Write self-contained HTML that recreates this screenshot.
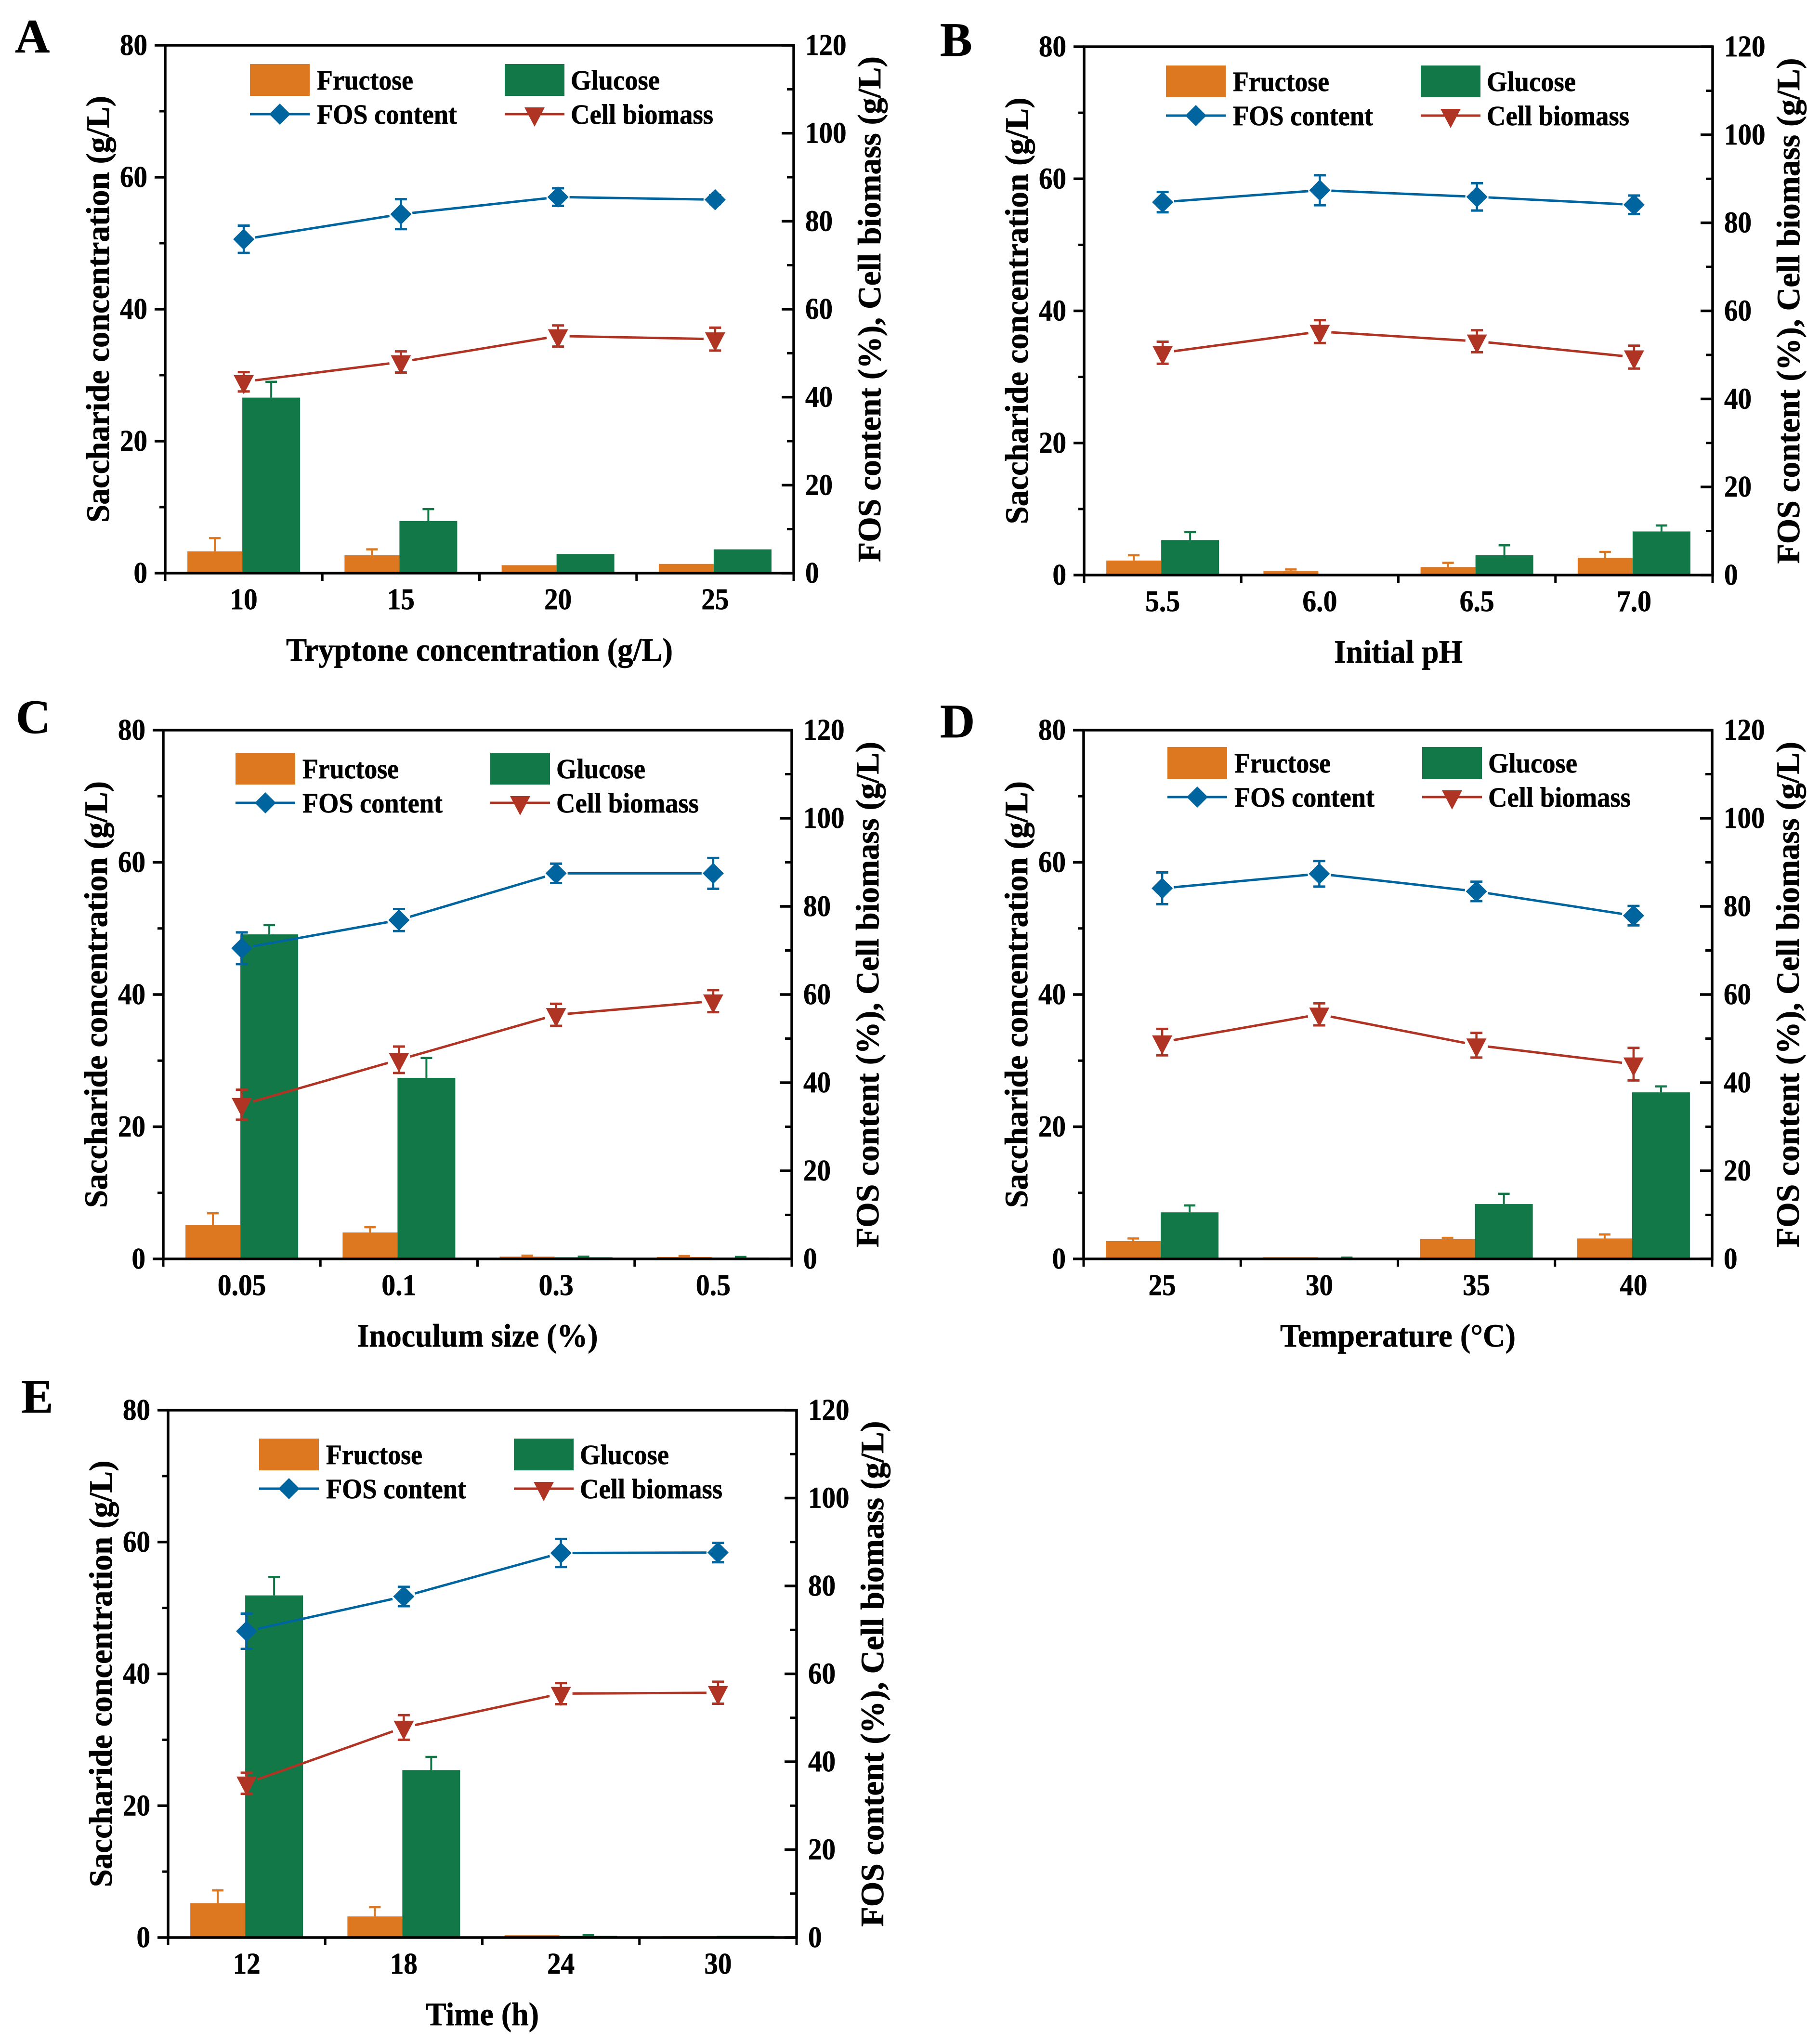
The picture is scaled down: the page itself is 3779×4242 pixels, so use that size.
<!DOCTYPE html>
<html lang="en">
<head>
<meta charset="utf-8">
<title>Saccharide concentration, FOS content and cell biomass panels</title>
<style>
html,body{margin:0;padding:0;background:#fff;}
svg{display:block;}
text{font-family:"Liberation Serif",serif;font-weight:bold;fill:#000;stroke:#000;stroke-width:0.7px;}
</style>
</head>
<body>
<svg id="figure" xmlns="http://www.w3.org/2000/svg" width="3779" height="4242" viewBox="0 0 3779 4242">
<rect x="0" y="0" width="3779" height="4242" fill="#ffffff"/>
</svg>
<script>
// ---------- shared axis data ----------
const leftTickLabels = [0, 20, 40, 60, 80];
const leftMinorTicks = [10, 30, 50, 70];
const rightTickLabels = [0, 20, 40, 60, 80, 100, 120];
const rightMinorTicks = [10, 30, 50, 70, 90, 110];
const leftAxisMax = 80;
const rightAxisMax = 120;

// ---------- panel A ----------
const panelACategories = ['10', '15', '20', '25'];
const panelAFructose = [3.3, 2.7, 1.2, 1.4];
const panelAFructoseErr = [2.0, 0.9, 0, 0];
const panelAGlucose = [26.6, 7.9, 2.9, 3.6];
const panelAGlucoseErr = [2.4, 1.8, 0, 0];
const panelAFos = [75.9, 81.6, 85.5, 84.9];
const panelAFosErr = [3.1, 3.4, 2.0, 1.0];
const panelABiomass = [43.5, 48.0, 53.9, 53.2];
const panelABiomassErr = [2.2, 2.4, 2.4, 2.6];

// ---------- panel B ----------
const panelBCategories = ['5.5', '6.0', '6.5', '7.0'];
const panelBFructose = [2.2, 0.65, 1.2, 2.6];
const panelBFructoseErr = [0.8, 0.2, 0.65, 0.9];
const panelBGlucose = [5.3, 0.1, 3.0, 6.6];
const panelBGlucoseErr = [1.2, 0, 1.5, 0.9];
const panelBFos = [84.7, 87.4, 85.9, 84.1];
const panelBFosErr = [2.3, 3.4, 3.1, 2.1];
const panelBBiomass = [50.5, 55.3, 53.1, 49.5];
const panelBBiomassErr = [2.5, 2.6, 2.5, 2.6];

// ---------- panel C ----------
const panelCCategories = ['0.05', '0.1', '0.3', '0.5'];
const panelCFructose = [5.15, 4.0, 0.35, 0.3];
const panelCFructoseErr = [1.75, 0.8, 0.15, 0.15];
const panelCGlucose = [49.1, 27.4, 0.25, 0.2];
const panelCGlucoseErr = [1.4, 3.0, 0.1, 0.1];
const panelCFos = [70.5, 76.9, 87.5, 87.5];
const panelCFosErr = [3.6, 2.5, 2.2, 3.5];
const panelCBiomass = [35.0, 45.2, 55.4, 58.5];
const panelCBiomassErr = [3.4, 3.0, 2.5, 2.5];

// ---------- panel D ----------
const panelDCategories = ['25', '30', '35', '40'];
const panelDFructose = [2.7, 0.25, 3.0, 3.1];
const panelDFructoseErr = [0.4, 0, 0.2, 0.6];
const panelDGlucose = [7.05, 0.1, 8.3, 25.2];
const panelDGlucoseErr = [1.05, 0.1, 1.55, 0.9];
const panelDFos = [84.1, 87.4, 83.4, 77.9];
const panelDFosErr = [3.6, 2.9, 2.2, 2.2];
const panelDBiomass = [49.2, 55.5, 48.5, 44.2];
const panelDBiomassErr = [3.0, 2.5, 2.8, 3.7];

// ---------- panel E ----------
const panelECategories = ['12', '18', '24', '30'];
const panelEFructose = [5.2, 3.2, 0.35, 0.2];
const panelEFructoseErr = [1.95, 1.4, 0, 0];
const panelEGlucose = [51.9, 25.4, 0.25, 0.25];
const panelEGlucoseErr = [2.8, 2.0, 0.1, 0];
const panelEFos = [69.7, 77.6, 87.5, 87.6];
const panelEFosErr = [4.0, 2.2, 3.2, 2.2];
const panelEBiomass = [35.1, 47.8, 55.5, 55.7];
const panelEBiomassErr = [2.4, 2.8, 2.4, 2.5];

const COLORS = {orange:'#de7820', green:'#137848', blue:'#00659f', red:'#b03424'};
const svg = document.getElementById('figure');
const NS = 'http://www.w3.org/2000/svg';

function make(parent, tag, attrs, content) {
  const el = document.createElementNS(NS, tag);
  for (const k in attrs) el.setAttribute(k, attrs[k]);
  if (content !== undefined) el.textContent = content;
  parent.appendChild(el);
  return el;
}
function line(parent, x1, y1, x2, y2, color, w) {
  return make(parent, 'line', {x1:x1, y1:y1, x2:x2, y2:y2, stroke:color, 'stroke-width':w});
}
function diamond(parent, cx, cy) {
  return make(parent, 'polygon', {points:[cx-22,cy, cx,cy-22, cx+22,cy, cx,cy+22].join(' '), fill:COLORS.blue});
}
function triangle(parent, cx, cy) {
  return make(parent, 'polygon', {points:[cx-21,cy-14, cx+21,cy-14, cx,cy+26].join(' '), fill:COLORS.red});
}
function tickLength(label) {
  const s = String(label);
  let total = 0;
  for (const ch of s) total += ch === '.' ? 15 : 28.5;
  return total;
}
function tickText(parent, x, y, label, anchor) {
  return make(parent, 'text', {x:x, y:y, 'font-size':62, 'text-anchor':anchor, textLength:tickLength(label), lengthAdjust:'spacingAndGlyphs'}, label);
}

function drawPanel(p) {
  const g = make(svg, 'g', {});
  
  

  const W = p.right - p.left, H = p.bottom - p.top;
  const n = p.categories.length;
  const xBand = i => p.left + W * (i + 0.5) / n;
  const yLeft = v => p.bottom - H * v / leftAxisMax;
  const yRight = v => p.bottom - H * v / rightAxisMax;

  // panel letter
  const letter = make(g, 'text', {x:p.letterX, y:p.letterY, 'font-size':100}, p.letter);
  
  

  // bars
  p.categories.forEach((c, i) => {
    const cx = xBand(i);
    [[p.fructose, p.fructoseErr, cx-117, 114, COLORS.orange, 'fructose-bar'],
     [p.glucose, p.glucoseErr, cx-3, 120, COLORS.green, 'glucose-bar']].forEach(b => {
      const val = b[0][i], err = b[1][i], x = b[2], w = b[3], col = b[4];
      const top = yLeft(val), mid = x + w / 2;
      if (err > 0) {
        const ebar = make(g, 'g', {});
        
        
        line(ebar, mid, top, mid, yLeft(val + err), col, 4);
        line(ebar, mid - 12, yLeft(val + err), mid + 12, yLeft(val + err), col, 4.5);
      }
      const r = make(g, 'rect', {x:x, y:top, width:w, height:Math.max(p.bottom - top, 0), fill:col});
      
      
    });
  });

  // axes frame
  const axes = make(g, 'g', {});
  
  
  make(axes, 'rect', {x:p.left, y:p.top, width:W, height:H, fill:'none', stroke:'#000', 'stroke-width':5.5});

  leftTickLabels.forEach(v => {
    const y = yLeft(v);
    line(axes, p.left - 22, y, p.left, y, '#000', 5.5);
    const t = tickText(axes, p.left - 37, y + 20, v, 'end');
    
    
  });
  leftMinorTicks.forEach(v => line(axes, p.left - 12, yLeft(v), p.left, yLeft(v), '#000', 5));
  rightTickLabels.forEach(v => {
    const y = yRight(v);
    line(axes, p.right - 25, y, p.right, y, '#000', 5.5);
    const t = tickText(axes, p.right + 24, y + 20, v, 'start');
    
    
  });
  rightMinorTicks.forEach(v => line(axes, p.right - 14, yRight(v), p.right, yRight(v), '#000', 5));
  for (let i = 0; i <= n; i++) {
    const x = p.left + W * i / n;
    line(axes, x, p.bottom, x, p.bottom + 16, '#000', 5);
  }
  p.categories.forEach((c, i) => {
    const t = tickText(axes, xBand(i), p.bottom + 75, c, 'middle');
    
    
  });

  // titles
  const xt = make(g, 'text', {x:(p.left + p.right) / 2, y:p.bottom + 182, 'font-size':68, 'text-anchor':'middle', textLength:p.xTitleLength, lengthAdjust:'spacingAndGlyphs'}, p.xTitle);
  
  
  const midY = (p.top + p.bottom) / 2;
  const yt = make(g, 'text', {transform:'translate(' + (p.left - 117) + ' ' + midY + ') rotate(-90)', 'font-size':68, 'text-anchor':'middle', textLength:886, lengthAdjust:'spacingAndGlyphs'}, 'Saccharide concentration (g/L)');
  
  
  const rt = make(g, 'text', {transform:'translate(' + (p.right + 180) + ' ' + midY + ') rotate(-90)', 'font-size':68, 'text-anchor':'middle', textLength:1050, lengthAdjust:'spacingAndGlyphs'}, 'FOS content (%), Cell biomass (g/L)');
  
  

  // line series
  [[p.fos, p.fosErr, COLORS.blue, diamond, 'fos-point'],
   [p.biomass, p.biomassErr, COLORS.red, triangle, 'biomass-point']].forEach(s => {
    const vals = s[0], errs = s[1], col = s[2], marker = s[3];
    const series = make(g, 'g', {});
    
    
    const GAP = 24;
    for (let i = 0; i < vals.length - 1; i++) {
      const x1 = xBand(i), y1 = yRight(vals[i]), x2 = xBand(i + 1), y2 = yRight(vals[i + 1]);
      const len = Math.hypot(x2 - x1, y2 - y1), ux = (x2 - x1) / len, uy = (y2 - y1) / len;
      line(series, x1 + ux * GAP, y1 + uy * GAP, x2 - ux * GAP, y2 - uy * GAP, col, 5);
    }
    vals.forEach((v, i) => {
      const x = xBand(i), hi = yRight(v + errs[i]), lo = yRight(v - errs[i]);
      line(series, x, hi, x, lo, col, 4.5);
      line(series, x - 12.5, hi, x + 12.5, hi, col, 5);
      line(series, x - 12.5, lo, x + 12.5, lo, col, 5);
      const m = marker(series, x, yRight(v));
      
      
    });
  });

  // legend
  const lx = p.left + p.legendDx, ly = p.top + p.legendDy, col2 = 529;
  const leg = make(g, 'g', {});
  
  
  make(leg, 'rect', {x:lx, y:ly, width:124, height:66, fill:COLORS.orange});
  make(leg, 'rect', {x:lx + col2, y:ly, width:124, height:66, fill:COLORS.green});
  line(leg, lx, ly + 104, lx + 124, ly + 104, COLORS.blue, 5);
  diamond(leg, lx + 62, ly + 104);
  line(leg, lx + col2, ly + 104, lx + col2 + 124, ly + 104, COLORS.red, 5);
  triangle(leg, lx + col2 + 62, ly + 104);
  [['Fructose', lx + 139, ly + 53, 200], ['Glucose', lx + col2 + 137, ly + 53, 185],
   ['FOS content', lx + 139, ly + 124, 291], ['Cell biomass', lx + col2 + 137, ly + 124, 296]].forEach(e => {
    const t = make(leg, 'text', {x:e[1], y:e[2], 'font-size':58, textLength:e[3], lengthAdjust:'spacingAndGlyphs'}, e[0]);
    
    
  });
}

drawPanel({letter:'A', letterX:31, letterY:109, left:343, right:1648, top:94, bottom:1190, legendDx:176, legendDy:39,
  xTitle:'Tryptone concentration (g/L)', xTitleLength:803, categories:panelACategories,
  fructose:panelAFructose, fructoseErr:panelAFructoseErr, glucose:panelAGlucose, glucoseErr:panelAGlucoseErr,
  fos:panelAFos, fosErr:panelAFosErr, biomass:panelABiomass, biomassErr:panelABiomassErr});
drawPanel({letter:'B', letterX:1952, letterY:116, left:2251, right:3556, top:97, bottom:1194, legendDx:170, legendDy:39,
  xTitle:'Initial pH', xTitleLength:267, categories:panelBCategories,
  fructose:panelBFructose, fructoseErr:panelBFructoseErr, glucose:panelBGlucose, glucoseErr:panelBGlucoseErr,
  fos:panelBFos, fosErr:panelBFosErr, biomass:panelBBiomass, biomassErr:panelBBiomassErr});
drawPanel({letter:'C', letterX:33, letterY:1522, left:339, right:1644, top:1516, bottom:2614, legendDx:150, legendDy:47,
  xTitle:'Inoculum size (%)', xTitleLength:500, categories:panelCCategories,
  fructose:panelCFructose, fructoseErr:panelCFructoseErr, glucose:panelCGlucose, glucoseErr:panelCGlucoseErr,
  fos:panelCFos, fosErr:panelCFosErr, biomass:panelCBiomass, biomassErr:panelCBiomassErr});
drawPanel({letter:'D', letterX:1952, letterY:1531, left:2250, right:3555, top:1516, bottom:2614, legendDx:174, legendDy:35,
  xTitle:'Temperature (\u00b0C)', xTitleLength:489, categories:panelDCategories,
  fructose:panelDFructose, fructoseErr:panelDFructoseErr, glucose:panelDGlucose, glucoseErr:panelDGlucoseErr,
  fos:panelDFos, fosErr:panelDFosErr, biomass:panelDBiomass, biomassErr:panelDBiomassErr});
drawPanel({letter:'E', letterX:44, letterY:2933, left:349, right:1654, top:2928, bottom:4023, legendDx:189, legendDy:59,
  xTitle:'Time (h)', xTitleLength:235, categories:panelECategories,
  fructose:panelEFructose, fructoseErr:panelEFructoseErr, glucose:panelEGlucose, glucoseErr:panelEGlucoseErr,
  fos:panelEFos, fosErr:panelEFosErr, biomass:panelEBiomass, biomassErr:panelEBiomassErr});
</script>
</body>
</html>
